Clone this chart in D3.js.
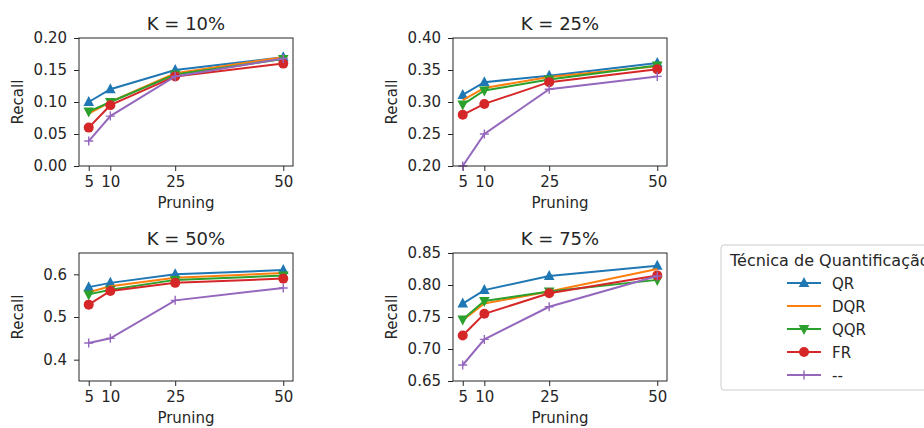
<!DOCTYPE html>
<html>
<head>
<meta charset="utf-8">
<script src="https://cdn.jsdelivr.net/npm/d3@7"></script>
<style>
  body { margin: 0; background: #fff; }
  text { font-family: "DejaVu Sans", sans-serif; fill: #262626; }
</style>
</head>
<body>
<div id="chart"></div>
<script>
const WIDTH = 924;
const HEIGHT = 428;

// datos
const pruning = [5, 10, 25, 50];
const tecnicas = ["QR", "DQR", "QQR", "FR", "--"];
const colores = ["#1f77b4", "#ff7f0e", "#2ca02c", "#d62728", "#9467bd"];
const marcadores = ["triUp", "none", "triDown", "circle", "plus"];

const titulos = ["K = 10%", "K = 25%", "K = 50%", "K = 75%"];

const recall_k10 = [
  [0.100, 0.120, 0.150, 0.170],
  [0.082, 0.100, 0.145, 0.170],
  [0.085, 0.100, 0.143, 0.167],
  [0.060, 0.095, 0.140, 0.160],
  [0.039, 0.078, 0.140, 0.168]
];
const recall_k25 = [
  [0.311, 0.331, 0.341, 0.361],
  [0.303, 0.322, 0.339, 0.356],
  [0.296, 0.318, 0.335, 0.357],
  [0.280, 0.297, 0.331, 0.351],
  [0.200, 0.250, 0.320, 0.340]
];
const recall_k50 = [
  [0.570, 0.580, 0.600, 0.610],
  [0.558, 0.572, 0.592, 0.603],
  [0.553, 0.564, 0.587, 0.597],
  [0.529, 0.561, 0.580, 0.590],
  [0.439, 0.450, 0.539, 0.568]
];
const recall_k75 = [
  [0.771, 0.792, 0.814, 0.830],
  [0.745, 0.771, 0.790, 0.825],
  [0.746, 0.775, 0.790, 0.808],
  [0.721, 0.755, 0.787, 0.815],
  [0.675, 0.715, 0.766, 0.814]
];

const ylims = [[0, 0.2], [0.2, 0.4], [0.35, 0.65], [0.65, 0.85]];
const yticks = [
  [0, 0.05, 0.10, 0.15, 0.20],
  [0.20, 0.25, 0.30, 0.35, 0.40],
  [0.4, 0.5, 0.6],
  [0.65, 0.70, 0.75, 0.80, 0.85]
];
const yformat = [".2f", ".2f", ".1f", ".2f"];
const todos = [recall_k10, recall_k25, recall_k50, recall_k75];

// posiciones de los paneles [izq, arriba]
const paneles = [[79, 38], [453, 38], [79, 253], [453, 253]];
const ANCHO = 214;
const ALTO = 128;

const svg = d3.select("#chart").append("svg")
  .attr("width", WIDTH).attr("height", HEIGHT);

function dibujarMarcador(g, tipo, color) {
  if (tipo == "triUp") {
    g.append("path").attr("d", "M0,-6 L5.3,4 L-5.3,4 Z").attr("fill", color);
  } else if (tipo == "triDown") {
    g.append("path").attr("d", "M0,6 L5.3,-4 L-5.3,-4 Z").attr("fill", color);
  } else if (tipo == "circle") {
    g.append("circle").attr("r", 5).attr("fill", color);
  } else if (tipo == "plus") {
    g.append("path").attr("d", "M-4.5,0 L4.5,0 M0,-4.5 L0,4.5")
      .attr("stroke", color).attr("stroke-width", 1.4).attr("fill", "none");
  }
}

todos.forEach((datos, p) => {
  const [x0, y0] = paneles[p];
  const g = svg.append("g").attr("transform", `translate(${x0},${y0})`);

  const x = d3.scaleLinear().domain([2.75, 52.25]).range([0, ANCHO]);
  const y = d3.scaleLinear().domain(ylims[p]).range([ALTO, 0]);

  // ejes
  const ejeX = g.append("g").attr("transform", `translate(0,${ALTO})`)
    .call(d3.axisBottom(x).tickValues(pruning).tickSize(5).tickPadding(5));
  const ejeY = g.append("g")
    .call(d3.axisLeft(y).tickValues(yticks[p]).tickFormat(d3.format(yformat[p])).tickSize(5).tickPadding(7));
  [ejeX, ejeY].forEach(e => {
    e.select(".domain").remove();
    e.selectAll("line").attr("stroke", "#262626").attr("stroke-width", 1);
    e.selectAll("text").style("font-size", "15px").attr("fill", "#262626");
  });

  const linea = d3.line().x((d, i) => x(pruning[i])).y(d => y(d));

  datos.forEach((serie, s) => {
    g.append("path").datum(serie)
      .attr("d", linea)
      .attr("fill", "none")
      .attr("stroke", colores[s])
      .attr("stroke-width", 2);
    if (marcadores[s] != "none") {
      serie.forEach((v, i) => {
        const m = g.append("g").attr("transform", `translate(${x(pruning[i])},${y(v)})`);
        dibujarMarcador(m, marcadores[s], colores[s]);
      });
    }
  });

  g.append("rect").attr("width", ANCHO).attr("height", ALTO)
    .attr("fill", "none").attr("stroke", "#262626").attr("stroke-width", 1);

  g.append("text").attr("x", ANCHO / 2).attr("y", -8)
    .attr("text-anchor", "middle").style("font-size", "18px").text(titulos[p]);
  g.append("text").attr("x", ANCHO / 2).attr("y", ALTO + 42)
    .attr("text-anchor", "middle").style("font-size", "15px").text("Pruning");
  g.append("text").attr("transform", `translate(-56,${ALTO / 2}) rotate(-90)`)
    .attr("text-anchor", "middle").style("font-size", "15px").text("Recall");
});

// leyenda
const leyenda = svg.append("g").attr("transform", "translate(721,245)");
leyenda.append("rect").attr("width", 220).attr("height", 145).attr("rx", 3)
  .attr("fill", "#fff").attr("stroke", "#cccccc").attr("stroke-width", 1);
leyenda.append("text").attr("x", 9).attr("y", 21).style("font-size", "16px")
  .text("Técnica de Quantificação");
tecnicas.forEach((t, s) => {
  const yy = 38 + s * 23;
  leyenda.append("line").attr("x1", 66).attr("x2", 100).attr("y1", yy).attr("y2", yy)
    .attr("stroke", colores[s]).attr("stroke-width", 2);
  const m = leyenda.append("g").attr("transform", `translate(83,${yy})`);
  dibujarMarcador(m, marcadores[s], colores[s]);
  leyenda.append("text").attr("x", 111).attr("y", yy + 5.5).style("font-size", "15px").text(t);
});
</script>
</body>
</html>
